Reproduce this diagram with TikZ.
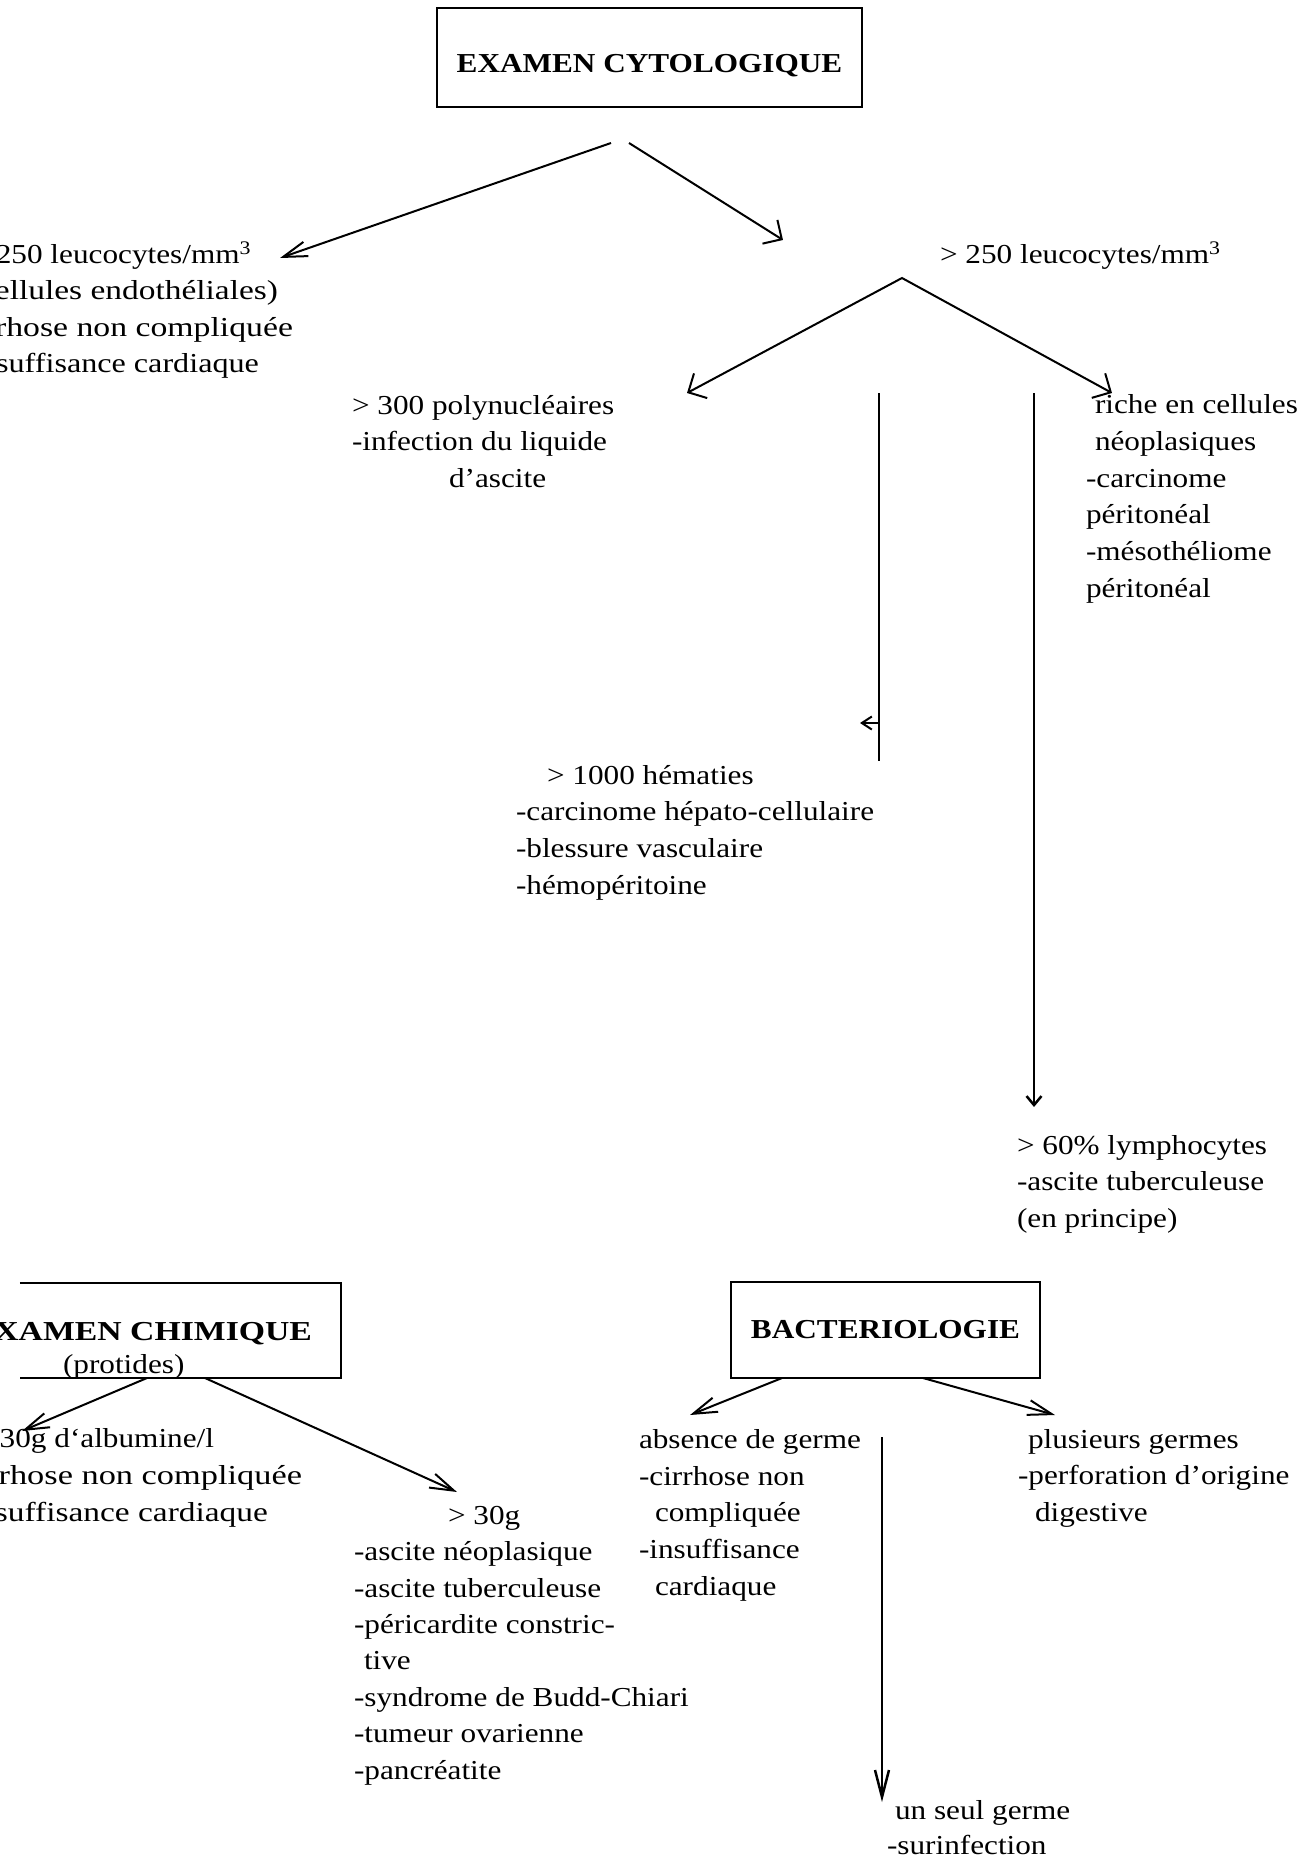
\documentclass[tikz,border=0pt]{standalone}
\usepackage{fontspec}
\setmainfont[FakeStretch=1.14]{Liberation Serif}
\usetikzlibrary{arrows.meta}
\begin{document}
\begin{tikzpicture}[x=1bp,y=-1bp,
  txt/.style={inner sep=0pt, outer sep=0pt, align=left, anchor=base west, font=\fontsize{27.5}{36.8}\selectfont},
  txtr/.style={inner sep=0pt, outer sep=0pt, anchor=base east, font=\fontsize{27.5}{36.8}\selectfont},
  ttl/.style={inner sep=0pt, outer sep=0pt, font=\fontsize{27.5}{33}\selectfont\bfseries},
  boxline/.style={line width=2bp},
  conn/.style={line width=2bp},
  vline/.style={line width=1.5bp},
  narrowarrow/.style={conn, -{Straight Barb[length=24bp,width=15bp]}},
  widearrow/.style={conn, -{Straight Barb[length=14bp,width=28bp]}},
  smallarrow/.style={vline, -{Straight Barb[length=10bp,width=13bp,line width=2bp]}},
  downarrow/.style={vline, -{Straight Barb[length=9bp,width=15bp,line width=2.5bp]}},
  longdown/.style={vline, -{Straight Barb[length=27bp,width=14bp,line width=2.5bp]}}
]
\fill[white] (0,0) rectangle (1303,1860);
\useasboundingbox (0,0) rectangle (1303,1860);

% ---------- boxes ----------
\node[ttl, draw, boxline, minimum width=425bp, minimum height=99bp, text height=29bp, text depth=0bp] (cyto) at (649.5,57.5) {EXAMEN CYTOLOGIQUE};
\node[ttl, draw, boxline, minimum width=309bp, minimum height=96bp, text height=16bp, text depth=0bp] (bact) at (885.5,1330) {BACTERIOLOGIE};
\node[inner sep=0pt, minimum width=321bp, minimum height=95bp] (chim) at (180.5,1330.5) {};
\draw[boxline] (chim.north west) -- (chim.north east) -- (chim.south east) -- (chim.south west);
\node[ttl, anchor=base east] (chimt) at (312,1340) {\scalebox{1.08}[1]{EXAMEN CHIMIQUE}};
\node[txt] (prot) at (63,1373) {(protides)};

% ---------- texts (multi-line nodes are placed by the baseline of their last line) ----------
\node[txtr] (l1) at (251,263) {< 250 leucocytes/mm\textsuperscript{3}};
\node[txtr] (l2) at (278,299) {\scalebox{1.07}[1]{(cellules endothéliales)}};
\node[txtr] (l3) at (293,336) {\scalebox{1.08}[1]{-cirrhose non compliquée}};
\node[txtr] (l4) at (259,372) {\scalebox{1.03}[1]{-insuffisance cardiaque}};

\node[txt] (leu) at (940,263) {> 250 leucocytes/mm\textsuperscript{3}};
\node[txt] (poly) at (352,487.6) {> 300 polynucléaires\\-infection du liquide\\\hspace*{97bp}d’ascite};
\node[txt] (neo) at (1086,597) {\hspace*{9bp}riche en cellules\\\hspace*{9bp}néoplasiques\\-carcinome\\péritonéal\\-mésothéliome\\péritonéal};
\node[txt] (hem) at (516,894) {\hspace*{31bp}> 1000 hématies\\-carcinome hépato-cellulaire\\-blessure vasculaire\\-hémopéritoine};
\node[txt] (lym) at (1017,1227.6) {> 60\% lymphocytes\\-ascite tuberculeuse\\(en principe)};

\node[txtr] (b1) at (214,1447) {< 30g d`albumine/l};
\node[txtr] (b2) at (302,1484) {\scalebox{1.1}[1]{-cirrhose non compliquée}};
\node[txtr] (b3) at (268,1521) {\scalebox{1.07}[1]{-insuffisance cardiaque}};

\node[txt, font=\fontsize{27.5}{36.5}\selectfont] (g30) at (354,1779) {\hspace*{94bp}> 30g\\-ascite néoplasique\\-ascite tuberculeuse\\-péricardite constric-\\\hspace*{10bp}tive\\-syndrome de Budd-Chiari\\-tumeur ovarienne\\-pancréatite};
\node[txt] (abs) at (639,1595.2) {absence de germe\\-cirrhose non\\\hspace*{16bp}compliquée\\-insuffisance\\\hspace*{16bp}cardiaque};
\node[txt] (plus) at (1018,1521.6) {\hspace*{10bp}plusieurs germes\\-perforation d’origine\\\hspace*{17bp}digestive};
\node[txt, font=\fontsize{27.5}{35}\selectfont] (seul) at (887,1854) {\hspace*{8bp}un seul germe\\-surinfection};

% ---------- connector end points ----------
\coordinate (c1) at (611,143);
\coordinate (t1) at (280,258);
\coordinate (c2) at (629,143);
\coordinate (t2) at (783,240);
\coordinate (apex) at (902,278);
\coordinate (t3) at (687,393);
\coordinate (t4) at (1112,393);
\coordinate (v1a) at (879,393);
\coordinate (v1b) at (879,761);
\coordinate (v1m) at (879,723);
\coordinate (v1t) at (860,723);
\coordinate (v2a) at (1034,393);
\coordinate (v2t) at (1034,1107);
\coordinate (ch1) at (147,1378);
\coordinate (ch1t) at (22,1431);
\coordinate (ch2) at (205,1378);
\coordinate (ch2t) at (457,1492);
\coordinate (ba1) at (782,1378);
\coordinate (ba1t) at (690,1415);
\coordinate (ba2) at (923,1378);
\coordinate (ba2t) at (1055,1415);
\coordinate (v3a) at (882,1437);
\coordinate (v3t) at (882,1802);

% ---------- connectors ----------
\draw[narrowarrow] (c1) -- (t1);
\draw[widearrow] (c2) -- (t2);
\draw[conn, {Straight Barb[length=14bp,width=28bp]}-{Straight Barb[length=14bp,width=28bp]}] (t3) -- (apex) -- (t4);
\draw[vline] (v1a) -- (v1b);
\draw[smallarrow] (v1m) -- (v1t);
\draw[downarrow] (v2a) -- (v2t);
\draw[narrowarrow] (ch1) -- (ch1t);
\draw[narrowarrow] (ch2) -- (ch2t);
\draw[narrowarrow] (ba1) -- (ba1t);
\draw[narrowarrow] (ba2) -- (ba2t);
\draw[longdown] (v3a) -- (v3t);
\end{tikzpicture}
\end{document}
